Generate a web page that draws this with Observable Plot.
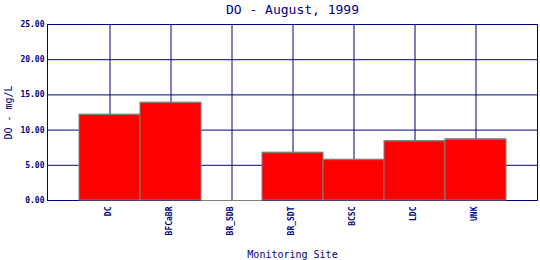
<!DOCTYPE html>
<html>
<head>
<meta charset="utf-8">
<script src="https://cdn.jsdelivr.net/npm/d3@7"></script>
<script src="https://cdn.jsdelivr.net/npm/@observablehq/plot@0.6"></script>
<style>
  html, body { margin: 0; padding: 0; background: #ffffff; }
</style>
</head>
<body>
<div id="chart"></div>
<script>
const chartTitle = "DO - August, 1999";
const xTitle = "Monitoring Site";
const yTitle = "DO - mg/L";
const sites = ["DC", "BFCaBR", "BR_SDB", "BR_SDT", "BCSC", "LDC", "UNK"];
const doValues = [12.2, 13.9, 0, 6.8, 5.8, 8.45, 8.7];
const yTicks = [0, 5, 10, 15, 20, 25];
const gridTicks = [5, 10, 15, 20];

const data = sites.map((s, i) => ({site: s, value: doValues[i]}));
const navy = "#000080";

const chart = Plot.plot({
  width: 540,
  height: 260,
  marginLeft: 47,
  marginRight: 3,
  marginTop: 24,
  marginBottom: 60,
  style: {fontFamily: "DejaVu Sans Mono", color: navy, background: "#ffffff"},
  x: {type: "band", domain: sites, paddingInner: 0, paddingOuter: 0.5, axis: null},
  y: {domain: [0, 25], axis: null},
  marks: [
    Plot.gridY({ticks: gridTicks, stroke: navy, strokeOpacity: 1}),
    Plot.gridX({stroke: navy, strokeOpacity: 1}),
    Plot.frame({stroke: navy}),
    Plot.barY(data, {x: "site", y: "value", fill: "#ff0000", stroke: "#808080", strokeWidth: 1, insetLeft: 0, insetRight: 0}),
    Plot.tickY(data, {x: "site", y: "value", stroke: "#808080"}),
    Plot.axisY({ticks: yTicks, tickFormat: d3.format(".2f"), tickSize: 0, tickPadding: 3, fontSize: 8, fontWeight: "bold", fill: navy, label: null}),
    Plot.text(sites, {x: d => d, text: d => d, frameAnchor: "bottom", rotate: -90, textAnchor: "end", lineAnchor: "middle", dx: -1.5, dy: 6, fontSize: 8, fontWeight: "bold", fill: navy}),
    Plot.text([chartTitle], {text: d => d, frameAnchor: "top", lineAnchor: "middle", textAnchor: "middle", dy: -15, fontSize: 13, fill: navy}),
    Plot.text([yTitle], {text: d => d, frameAnchor: "left", rotate: -90, textAnchor: "middle", lineAnchor: "middle", dx: -39, fontSize: 10, fill: navy}),
    Plot.text([xTitle], {text: d => d, frameAnchor: "bottom", lineAnchor: "middle", textAnchor: "middle", dy: 54, fontSize: 10, fill: navy})
  ]
});
document.getElementById("chart").appendChild(chart);
</script>
</body>
</html>
